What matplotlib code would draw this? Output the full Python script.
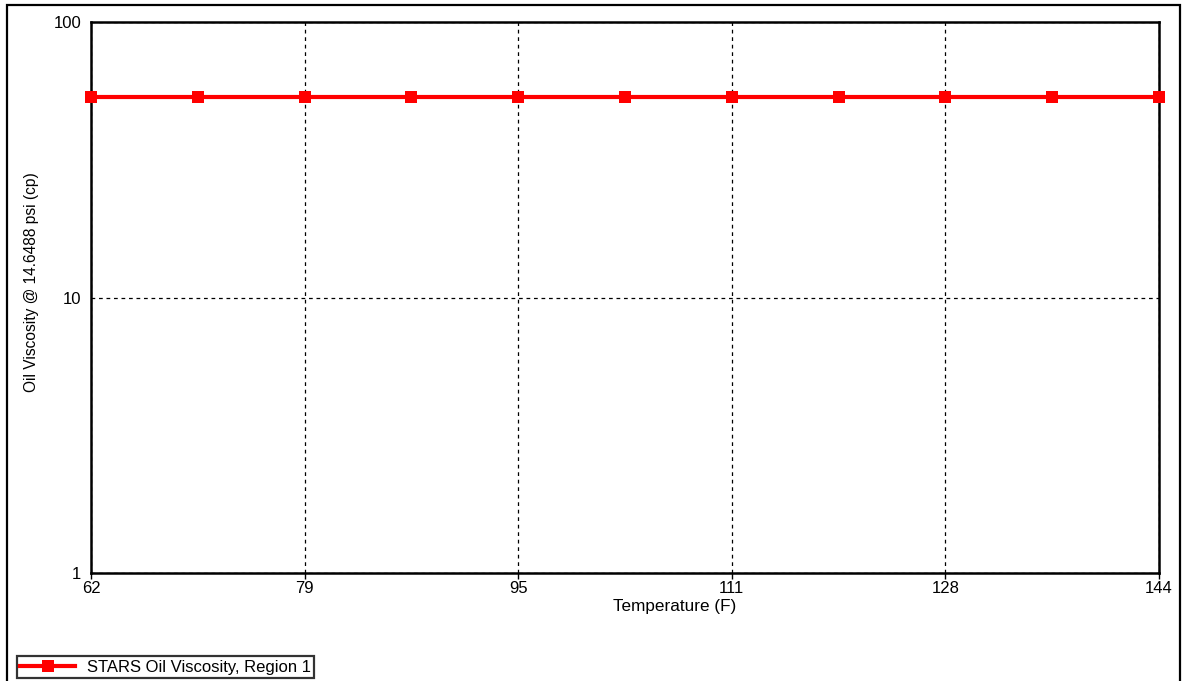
import matplotlib.pyplot as plt
from matplotlib.patches import Rectangle
from matplotlib.lines import Line2D

plt.rcParams['font.family'] = ['Liberation Sans', 'DejaVu Sans']

# oil viscosity table, region 1
temperature_f = [62.0, 70.2, 78.4, 86.6, 94.8, 103.0, 111.2, 119.4, 127.6, 135.8, 144.0]
viscosity_cp = [53.6, 53.6, 53.6, 53.6, 53.6, 53.6, 53.6, 53.6, 53.6, 53.6, 53.6]

x_ticks = [62.0, 78.4, 94.8, 111.2, 127.6, 144.0]
x_tick_labels = ["62", "79", "95", "111", "128", "144"]
y_ticks = [1, 10, 100]
y_tick_labels = ["1", "10", "100"]

W, H = 1186, 681
fig = plt.figure(figsize=(W / 100, H / 100), dpi=100)

# outer frame around the whole chart (runs off the bottom edge)
fig.patches.append(Rectangle((7 / W, -0.05), (1180 - 7) / W, 1.05 - 5 / H,
                             transform=fig.transFigure, fill=False,
                             edgecolor='black', linewidth=1.6))

left, right, top, bottom = 91, 1159, 22, 573
ax = fig.add_axes([left / W, 1 - bottom / H, (right - left) / W, (bottom - top) / H])

ax.plot(temperature_f, viscosity_cp, color='#ff0000', linewidth=3,
        marker='s', markersize=8.5, markeredgewidth=0, zorder=3, clip_on=False)

ax.set_yscale('log')
ax.set_xlim(62, 144)
ax.set_ylim(1, 100)
ax.set_xticks(x_ticks)
ax.set_xticklabels(x_tick_labels)
ax.set_yticks(y_ticks)
ax.set_yticklabels(y_tick_labels)
ax.yaxis.set_minor_locator(plt.NullLocator())
ax.tick_params(axis='x', length=4, width=1, direction='out', labelsize=12,
               pad=2, colors='black')
ax.tick_params(axis='y', length=0, labelsize=12, pad=7, colors='black')

ax.grid(True, which='major', color='black', linestyle=(0, (3, 3)), linewidth=0.9)
for s in ax.spines.values():
    s.set_linewidth(1.8)

fig.text(675 / W, 1 - 607 / H, "Temperature (F)", ha='center', va='center', fontsize=12.3)
fig.text(32 / W, 1 - 282 / H, "Oil Viscosity @ 14.6488 psi (cp)", ha='center',
         va='center', rotation=90, fontsize=11.2)

handle = Line2D([], [], color='#ff0000', linewidth=3, marker='s', markersize=8.5,
                markeredgewidth=0)
leg = fig.legend([handle], ["STARS Oil Viscosity, Region 1"], loc='lower left',
                 bbox_to_anchor=(17 / W, 1 - 678 / H), fontsize=12,
                 frameon=True, fancybox=False, borderpad=0.2, handlelength=3.3,
                 handletextpad=0.7, borderaxespad=0)
leg.get_frame().set_edgecolor('black')
leg.get_frame().set_linewidth(1.6)

fig.savefig('out.png', dpi=100)
